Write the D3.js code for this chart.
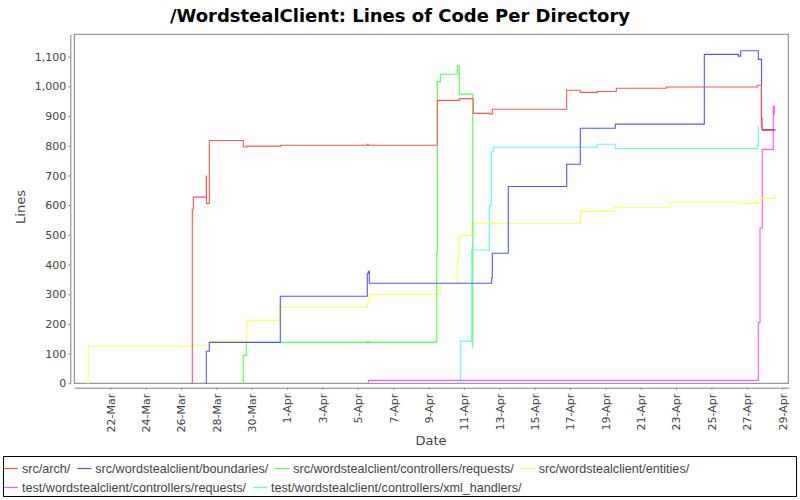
<!DOCTYPE html>
<html><head><meta charset="utf-8">
<script src="https://cdn.jsdelivr.net/npm/d3@7"></script>
<style>
body{margin:0;background:#fff;}
svg{display:block;}
</style></head>
<body>
<svg id="chart" width="800" height="500"></svg>
<script>
const chartTitle = "/WordstealClient: Lines of Code Per Directory";
const seriesNames = [
  "src/arch/",
  "src/wordstealclient/boundaries/",
  "src/wordstealclient/controllers/requests/",
  "src/wordstealclient/entities/",
  "test/wordstealclient/controllers/requests/",
  "test/wordstealclient/controllers/xml_handlers/"
];
const seriesColors = ["#FF5555","#5555FF","#55FF55","#FFFF55","#FF55FF","#55FFFF"];

const srcArch = [
  ["2011-03-26 14:14",0],["2011-03-26 15:19",586],["2011-03-26 16:41",627],
  ["2011-03-27 10:19",698],["2011-03-27 10:30",606],["2011-03-27 14:24",818],
  ["2011-03-29 12:33",796],["2011-03-29 17:10",799],["2011-03-31 15:19",802],
  ["2011-04-05 12:52",805],["2011-04-05 14:14",802],["2011-04-09 11:54",953],
  ["2011-04-10 17:45",959],["2011-04-11 12:46",909],["2011-04-12 11:26",906],
  ["2011-04-12 14:33",923],["2011-04-16 19:32",987],["2011-04-17 14:01",980],
  ["2011-04-18 13:05",983],["2011-04-19 14:53",994],["2011-04-22 10:45",998],
  ["2011-04-27 14:17",1004],["2011-04-27 19:42",864],["2011-04-27 21:04",852],
  ["2011-04-28 13:54",850]
];
const srcBoundaries = [
  ["2011-03-27 10:00",0],["2011-03-27 10:19",108],["2011-03-27 14:24",138],
  ["2011-03-31 14:46",293],["2011-04-05 12:52",370],["2011-04-05 14:14",377],
  ["2011-04-05 15:35",337],["2011-04-12 13:44",354],["2011-04-12 14:33",438],
  ["2011-04-13 12:16",663],["2011-04-16 19:32",738],["2011-04-17 14:01",859],
  ["2011-04-19 13:31",873],["2011-04-24 14:20",1108],["2011-04-26 12:29",1102],
  ["2011-04-26 15:45",1120],["2011-04-27 15:39",1091],["2011-04-27 20:00",892],
  ["2011-04-27 20:40",855],["2011-04-28 13:54",849]
];
const srcRequests = [
  ["2011-03-29 12:00",0],["2011-03-29 12:33",94],["2011-03-29 16:37",138],
  ["2011-04-05 12:52",141],["2011-04-05 14:14",138],["2011-04-09 10:08",142],
  ["2011-04-09 11:05",440],["2011-04-09 11:54",1016],["2011-04-09 15:58",1041],
  ["2011-04-10 15:02",1069],["2011-04-10 17:45",974],["2011-04-11 11:57",121]
];
const srcEntities = [
  ["2011-03-20 17:00",0],["2011-03-20 18:08",125],["2011-03-26 15:19",128],
  ["2011-03-27 14:24",142],["2011-03-29 17:10",212],["2011-03-31 13:25",256],
  ["2011-04-05 12:52",269],["2011-04-05 14:14",278],["2011-04-05 15:35",300],
  ["2011-04-09 15:58",337],["2011-04-10 15:02",415],["2011-04-10 16:24",490],
  ["2011-04-10 19:06",498],["2011-04-11 10:35",535],["2011-04-11 12:46",539],
  ["2011-04-12 12:47",533],["2011-04-12 13:30",539],["2011-04-17 14:01",579],
  ["2011-04-19 12:10",593],["2011-04-22 16:11",610],["2011-04-26 16:09",606],
  ["2011-04-27 15:39",610],["2011-04-27 17:57",623],["2011-04-28 13:54",637]
];
const testRequests = [
  ["2011-04-05 13:30",0],["2011-04-05 14:14",10],["2011-04-27 15:39",205],
  ["2011-04-27 17:57",522],["2011-04-27 21:04",788],["2011-04-28 12:00",934],
  ["2011-04-28 13:22",903]
];
const testXmlHandlers = [
  ["2011-04-10 18:30",0],["2011-04-10 19:06",142],["2011-04-11 10:35",449],
  ["2011-04-12 10:29",600],["2011-04-12 13:12",779],["2011-04-12 15:55",795],
  ["2011-04-18 13:05",805],["2011-04-19 13:31",791],["2011-04-27 14:17",802],
  ["2011-04-27 15:39",866]
];
const seriesData = [srcArch, srcBoundaries, srcRequests, srcEntities, testRequests, testXmlHandlers];

const xDomain = ["2011-03-19 23:08", "2011-04-29 08:21"];
const xTickStart = "2011-03-22 00:00", xTickEnd = "2011-04-30 00:00";
const yMax = 1175.5;
const yTicks = [0,100,200,300,400,500,600,700,800,900,1000,1100];

const parse = d3.utcParse("%Y-%m-%d %H:%M");
const svg = d3.select("#chart");
const L = 74.3, R = 788.3, T = 34.3, B = 383.3;

const x = d3.scaleUtc().domain(xDomain.map(parse)).range([L, R]);
const y = d3.scaleLinear().domain([0, yMax]).range([B, T]);

svg.append("rect").attr("width",800).attr("height",500).attr("fill","#fff");

// title
svg.append("text").attr("x",400).attr("y",22).attr("text-anchor","middle")
  .attr("font-family","'DejaVu Sans Condensed','DejaVu Sans',sans-serif")
  .attr("font-weight","bold").attr("font-size",18).attr("fill","#000")
  .attr("textLength",460).attr("lengthAdjust","spacingAndGlyphs")
  .text(chartTitle);

// plot background + border
svg.append("rect").attr("x",L).attr("y",T).attr("width",R-L).attr("height",B-T)
  .attr("fill","#fff").attr("stroke","#808080").attr("stroke-width",1);

// series lines (reverse order so first series on top)
const line = d3.line().curve(d3.curveStepAfter)
  .x(d => x(parse(d[0]))).y(d => y(d[1]));
const g = svg.append("g");
for (let i = seriesData.length - 1; i >= 0; i--) {
  g.append("path").datum(seriesData[i]).attr("d", line)
    .attr("fill","none").attr("stroke",seriesColors[i]).attr("stroke-width",1.1);
}

// axes
const tickFont = "'DejaVu Sans',sans-serif";
const xTicks = d3.utcDay.range(parse(xTickStart), parse(xTickEnd), 2);
const xAxis = d3.axisBottom(x).tickValues(xTicks).tickSize(2).tickSizeOuter(0)
  .tickFormat(d3.utcFormat("%-d-%b"));
const gx = svg.append("g").attr("transform","translate(0,387.7)").call(xAxis);
gx.select(".domain").attr("stroke","#808080");
gx.selectAll(".tick line").attr("stroke","#808080");
gx.selectAll(".tick text").attr("font-family",tickFont).attr("font-size",11).attr("fill","#444")
  .attr("transform","rotate(-90)").attr("text-anchor","end")
  .attr("x",-6).attr("y",0).attr("dy","0.35em");

const yAxis = d3.axisLeft(y).tickValues(yTicks).tickSize(2).tickSizeOuter(0)
  .tickFormat(d3.format(","));
const gy = svg.append("g").attr("transform","translate(70.3,0)").call(yAxis);
gy.select(".domain").attr("stroke","#808080");
gy.selectAll(".tick line").attr("stroke","#808080");
gy.selectAll(".tick text").attr("font-family",tickFont).attr("font-size",11).attr("fill","#444")
  .attr("x",-4);

// axis labels
svg.append("text").attr("x",431).attr("y",445).attr("text-anchor","middle")
  .attr("font-family","'DejaVu Sans',sans-serif").attr("font-size",13).attr("fill","#444")
  .text("Date");
svg.append("text").attr("transform","translate(25,207) rotate(-90)").attr("text-anchor","middle")
  .attr("font-family","'DejaVu Sans',sans-serif").attr("font-size",13).attr("fill","#444")
  .text("Lines");

// legend
svg.append("rect").attr("x",3.5).attr("y",456.5).attr("width",793).attr("height",40)
  .attr("fill","#fff").attr("stroke","#000").attr("stroke-width",1);
const legendRows = [[0,1,2,3],[4,5]];
const rowY = [468.5, 487.5];
legendRows.forEach((row, r) => {
  let cx = 4;
  row.forEach(i => {
    svg.append("line").attr("x1",cx).attr("x2",cx+14).attr("y1",rowY[r]).attr("y2",rowY[r])
      .attr("stroke",seriesColors[i]).attr("stroke-width",1.2);
    const t = svg.append("text").attr("x",cx+18).attr("y",rowY[r]).attr("dy","0.35em")
      .attr("font-family","'Liberation Sans',Arial,sans-serif").attr("font-size",12.6).attr("fill","#444")
      .text(seriesNames[i]);
    const w = t.node().getComputedTextLength();
    cx = cx + 18 + w + 7;
  });
});
</script>
</body></html>
